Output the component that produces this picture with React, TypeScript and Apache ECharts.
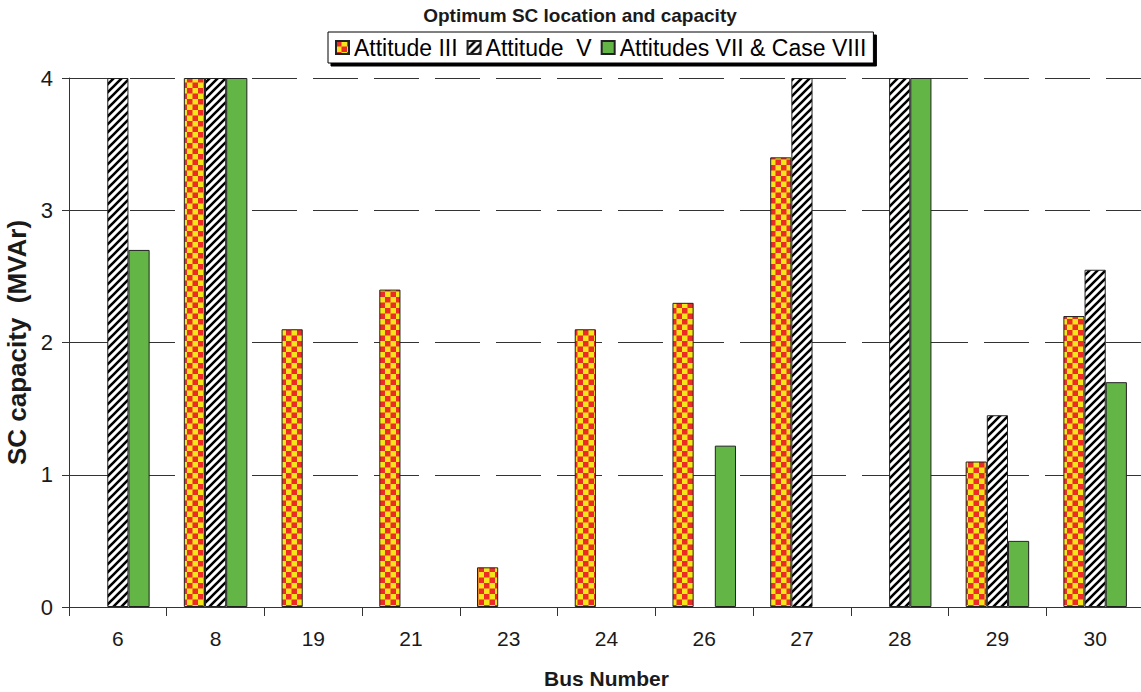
import React, { useEffect, useRef } from "react";
import * as echarts from "echarts";

const categories = ["6", "8", "19", "21", "23", "24", "26", "27", "28", "29", "30"];
const attitudeIII = [null, 4, 2.1, 2.4, 0.3, 2.1, 2.3, 3.4, null, 1.1, 2.2];
const attitudeV = [4, 4, null, null, null, null, null, 4, 4, 1.45, 2.55];
const attitudesVII = [2.7, 4, null, null, null, null, 1.22, null, 4, 0.5, 1.7];
const yTicks = [0, 1, 2, 3, 4];

function makeChecker(): HTMLCanvasElement {
  const c = document.createElement("canvas");
  c.width = 11;
  c.height = 11;
  const g = c.getContext("2d")!;
  g.fillStyle = "#f5e61b";
  g.fillRect(0, 0, 11, 11);
  g.fillStyle = "#ec2a26";
  g.fillRect(0, 0, 5.5, 5.5);
  g.fillRect(5.5, 5.5, 5.5, 5.5);
  return c;
}

function makeHatch(): HTMLCanvasElement {
  const c = document.createElement("canvas");
  c.width = 8;
  c.height = 8;
  const g = c.getContext("2d")!;
  g.fillStyle = "#ffffff";
  g.fillRect(0, 0, 8, 8);
  g.strokeStyle = "#000000";
  g.lineWidth = 2.6;
  g.beginPath();
  g.moveTo(-4, 4);
  g.lineTo(4, -4);
  g.moveTo(0, 8);
  g.lineTo(8, 0);
  g.moveTo(4, 12);
  g.lineTo(12, 4);
  g.stroke();
  return c;
}

export default function App() {
  const ref = useRef<HTMLDivElement>(null);
  useEffect(() => {
    if (!ref.current) return;
    const chart = echarts.init(ref.current, null, { renderer: "svg" });
    const checker = { image: makeChecker(), repeat: "repeat" };
    const hatch = { image: makeHatch(), repeat: "repeat" };
    const font = "'Liberation Sans', Arial, sans-serif";
    const border = { borderColor: "#222", borderWidth: 1 };
    chart.setOption({
      animation: false,
      backgroundColor: "#fff",
      textStyle: { fontFamily: font },
      title: {
        text: "Optimum SC location and capacity",
        left: 580,
        textAlign: "center",
        top: 6,
        padding: 0,
        textStyle: { fontSize: 19, fontWeight: "bold", color: "#1a1a1a", fontFamily: font },
      },
      legend: {
        left: 328,
        top: 32,
        padding: [4, 7, 4, 7],
        itemGap: 9,
        itemWidth: 13,
        itemHeight: 13,
        icon: "rect",
        backgroundColor: "#fff",
        borderColor: "#000",
        borderWidth: 1,
        shadowColor: "#000",
        shadowOffsetX: 3,
        shadowOffsetY: 3,
        shadowBlur: 0,
        textStyle: { fontSize: 23, color: "#000", fontFamily: font },
      },
      grid: {
        left: 69,
        right: -3,
        top: 78,
        bottom: 85,
        containLabel: false,
        outerBoundsMode: "none",
      },
      xAxis: {
        type: "category",
        data: categories,
        name: "Bus Number",
        nameLocation: "middle",
        nameGap: 61,
        nameTextStyle: { fontSize: 21, fontWeight: "bold", color: "#1a1a1a", fontFamily: font },
        axisLine: { lineStyle: { color: "#333", width: 1 } },
        axisTick: { show: true, length: 9, lineStyle: { color: "#333" } },
        axisLabel: { fontSize: 21, color: "#1a1a1a", margin: 21, fontFamily: font },
      },
      yAxis: {
        type: "value",
        min: yTicks[0],
        max: yTicks[yTicks.length - 1],
        interval: 1,
        name: "SC capacity  (MVAr)",
        nameLocation: "middle",
        nameGap: 33,
        nameTextStyle: { fontSize: 26, fontWeight: "bold", color: "#1a1a1a", fontFamily: font },
        axisLine: { show: true, lineStyle: { color: "#333", width: 1 } },
        axisTick: { show: true, length: 7, lineStyle: { color: "#333" } },
        axisLabel: { fontSize: 22, color: "#1a1a1a", margin: 16, fontFamily: font },
        splitLine: { show: true, lineStyle: { color: "#333", width: 1, type: [45, 16] } },
      },
      series: [
        {
          name: "Attitude III",
          type: "bar",
          data: attitudeIII,
          barGap: "0%",
          barCategoryGap: "35%",
          itemStyle: { color: checker, ...border },
        },
        {
          name: "Attitude  V",
          type: "bar",
          data: attitudeV,
          itemStyle: { color: hatch, ...border },
        },
        {
          name: "Attitudes VII & Case VIII",
          type: "bar",
          data: attitudesVII,
          itemStyle: { color: "#63b646", ...border },
        },
      ],
    });
    return () => chart.dispose();
  }, []);
  return (
    <div
      ref={ref}
      style={{ position: "fixed", left: 0, top: 0, width: 1141, height: 692 }}
    />
  );
}
